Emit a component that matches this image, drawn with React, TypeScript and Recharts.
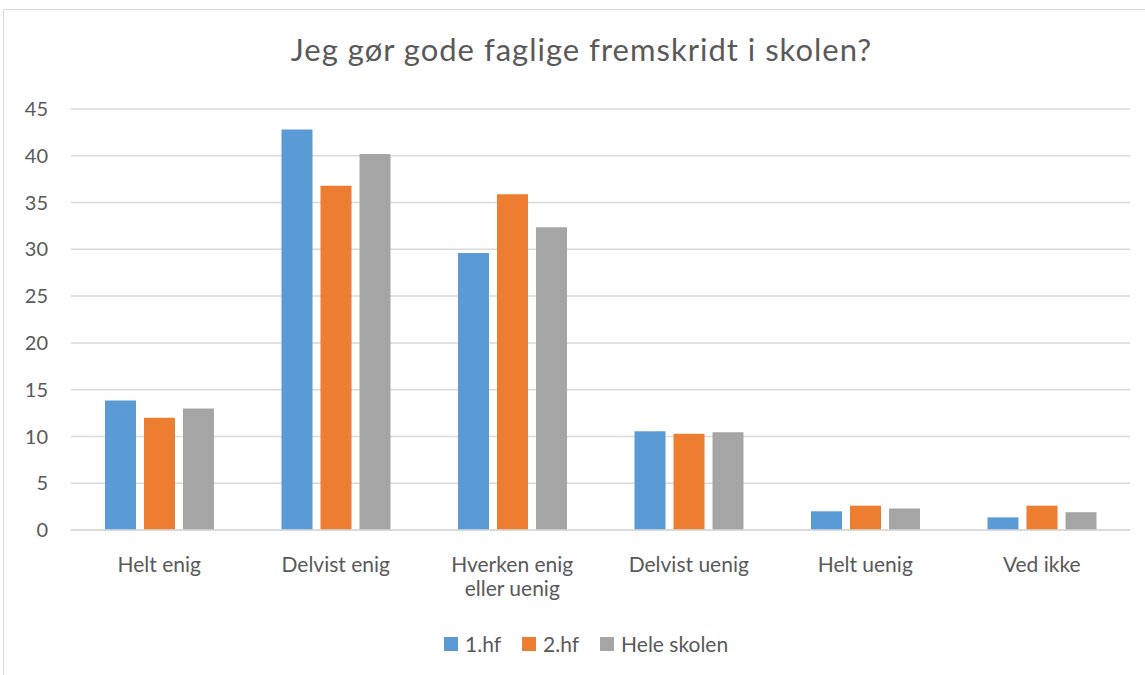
import React from "react";
import { BarChart, Bar, XAxis, YAxis, CartesianGrid, Legend } from "recharts";

const categories = ["Helt enig", "Delvist enig", "Hverken enig eller uenig", "Delvist uenig", "Helt uenig", "Ved ikke"];
const hf1 = [13.85, 42.8, 29.6, 10.55, 2.0, 1.35];
const hf2 = [12.0, 36.8, 35.9, 10.3, 2.6, 2.6];
const heleSkolen = [13.0, 40.2, 32.35, 10.45, 2.3, 1.9];
const yTicks = [0, 5, 10, 15, 20, 25, 30, 35, 40, 45];

const seriesInfo = [
  { key: "hf1", name: "1.hf", color: "#5B9BD5" },
  { key: "hf2", name: "2.hf", color: "#ED7D31" },
  { key: "hele", name: "Hele skolen", color: "#A5A5A5" },
];

const data = categories.map((c, i) => ({
  category: c,
  hf1: hf1[i],
  hf2: hf2[i],
  hele: heleSkolen[i],
}));

const FONT = "Lato, 'Open Sans', sans-serif";
const TEXT = "#595959";

// splits the long label into two lines like Excel does
const wrapLabel = (label: string) => {
  if (label === "Hverken enig eller uenig") return ["Hverken enig", "eller uenig"];
  return [label];
};

const CategoryTick = (props: any) => {
  const { x, y, payload } = props;
  const lines = wrapLabel(payload.value);
  return (
    <text x={x} y={y + 42} textAnchor="middle" fill={TEXT} fontSize={21} fontFamily={FONT}>
      {lines.map((l, i) => (
        <tspan key={i} x={x} dy={i === 0 ? 0 : 24}>
          {l}
        </tspan>
      ))}
    </text>
  );
};

const LegendContent = () => (
  <div style={{ display: "flex", alignItems: "center", fontFamily: FONT, fontSize: 21, color: TEXT, lineHeight: "24px" }}>
    {seriesInfo.map((s) => (
      <div key={s.key} style={{ display: "flex", alignItems: "center", marginRight: 21 }}>
        <span style={{ width: 14, height: 14, background: s.color, display: "inline-block", marginRight: 7 }} />
        <span>{s.name}</span>
      </div>
    ))}
  </div>
);

export default function App() {
  return (
    <div
      style={{
        position: "absolute",
        left: 3,
        top: 9,
        width: 1142,
        height: 666,
        borderTop: "1px solid #d9d9d9",
        borderLeft: "1px solid #d9d9d9",
        background: "#fff",
        overflow: "hidden",
      }}
    >
      <div
        style={{
          position: "absolute",
          left: 0,
          top: 21,
          width: 1141,
          paddingLeft: 14,
          boxSizing: "border-box",
          textAlign: "center",
          fontFamily: FONT,
          fontSize: 31,
          letterSpacing: 1,
          lineHeight: 1.2,
          color: TEXT,
        }}
      >
        Jeg gør gode faglige fremskridt i skolen?
      </div>
      <BarChart
        width={1141}
        height={665}
        data={data}
        margin={{ top: 99, right: 15, left: 0, bottom: 0 }}
        barSize={31}
        barGap={8}
      >
        <CartesianGrid vertical={false} stroke="#d9d9d9" strokeWidth={1.5} />
        <XAxis
          dataKey="category"
          height={145}
          axisLine={{ stroke: "#d9d9d9", strokeWidth: 1.5 }}
          tickLine={false}
          tickSize={0}
          tickMargin={0}
          interval={0}
          tick={<CategoryTick />}
        />
        <YAxis
          width={67}
          domain={[0, 45]}
          ticks={yTicks}
          axisLine={false}
          tickLine={false}
          tickSize={0}
          tickMargin={23}
          tick={{ fill: TEXT, fontSize: 20, fontFamily: FONT }}
        />
        <Legend
          layout="horizontal"
          verticalAlign="middle"
          align="center"
          content={<LegendContent />}
          wrapperStyle={{ top: 622, left: 440, width: "auto" }}
        />
        {seriesInfo.map((s) => (
          <Bar key={s.key} dataKey={s.key} name={s.name} fill={s.color} isAnimationActive={false} />
        ))}
      </BarChart>
    </div>
  );
}
